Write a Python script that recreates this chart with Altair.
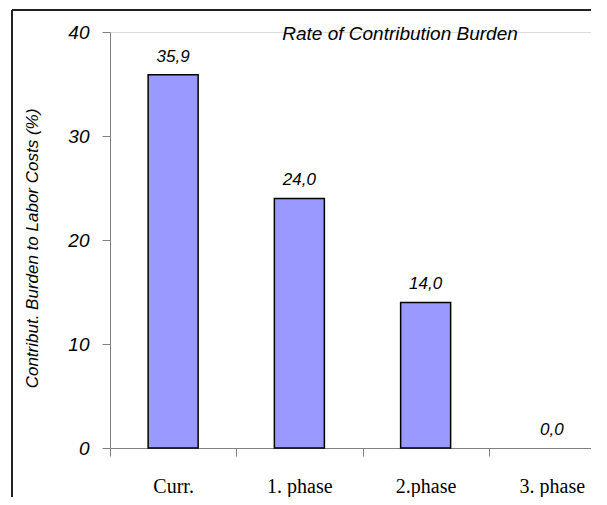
import altair as alt
import pandas as pd

categories = ["Curr.", "1. phase", "2.phase", "3. phase"]
values = [35.9, 24.0, 14.0, 0.0]
y_ticks = [0, 10, 20, 30, 40]
title_text = "Rate of Contribution Burden"
y_title = "Contribut. Burden to Labor Costs (%)"

df = pd.DataFrame({"category": categories, "value": values})

W = 481
H = 416
BAND_RANGE = 505

x_enc = alt.X(
    "category:N",
    sort=categories,
    title=None,
    scale=alt.Scale(paddingInner=0, paddingOuter=0, range=[0, BAND_RANGE]),
    axis=alt.Axis(
        labelAngle=0,
        tickBand="extent",
        labelFont="Liberation Serif",
        labelFontSize=20,
        labelColor="black",
        labelPadding=20,
        domainColor="#808080",
        tickColor="#808080",
        tickSize=8,
        domainWidth=1,
    ),
)
y_enc = alt.Y(
    "value:Q",
    scale=alt.Scale(domain=[0, 40], nice=False),
    axis=alt.Axis(
        values=y_ticks,
        grid=False,
        title=y_title,
        titleFont="Liberation Sans",
        titleFontSize=17,
        titleFontStyle="italic",
        titleFontWeight="normal",
        titleColor="black",
        titleX=-78,
        titleY=216,
        titleAngle=270,
        titleBaseline="middle",
        titleAlign="center",
        labelFont="Liberation Sans",
        labelFontSize=19,
        labelFontStyle="italic",
        labelColor="black",
        labelPadding=13,
        domainColor="#808080",
        tickColor="#808080",
        tickSize=8,
    ),
)

bars = alt.Chart(df).transform_filter(
    "datum.value > 0"
).mark_bar(
    size=50, color="#9999FF", stroke="black", strokeWidth=1.5
).encode(x=x_enc, y=y_enc)

labels = alt.Chart(df).transform_calculate(
    label="replace(format(datum.value, '.1f'), '.', ',')"
).mark_text(
    baseline="bottom", dy=-9, font="Liberation Sans", fontSize=17,
    fontStyle="italic", color="black"
).encode(x=alt.X("category:N", sort=categories), y="value:Q", text="label:N")

frame_data = alt.Data(values=[{"k": 0}])
frame_left = alt.Chart(frame_data).mark_rule(
    color="#222222", strokeWidth=2, clip=False
).encode(x=alt.value(-98), y=alt.value(-22), y2=alt.value(H + 100))
frame_top = alt.Chart(frame_data).mark_rule(
    color="#222222", strokeWidth=2, clip=False
).encode(x=alt.value(-98), x2=alt.value(W + 50), y=alt.value(-22))

title = alt.Chart(frame_data).mark_text(
    text=title_text, font="Liberation Sans", fontSize=19, fontStyle="italic",
    color="black", align="center", baseline="alphabetic"
).encode(x=alt.value(290), y=alt.value(8))

chart = alt.layer(bars, labels, frame_left, frame_top, title).properties(
    width=W, height=H,
    autosize=alt.AutoSizeParams(type="none"),
    padding={"left": 102, "top": 24, "right": 0, "bottom": 49},
).configure_view(stroke=None).configure(background="white")

chart.save("out.html", embed_options={"renderer": "svg", "actions": False})
